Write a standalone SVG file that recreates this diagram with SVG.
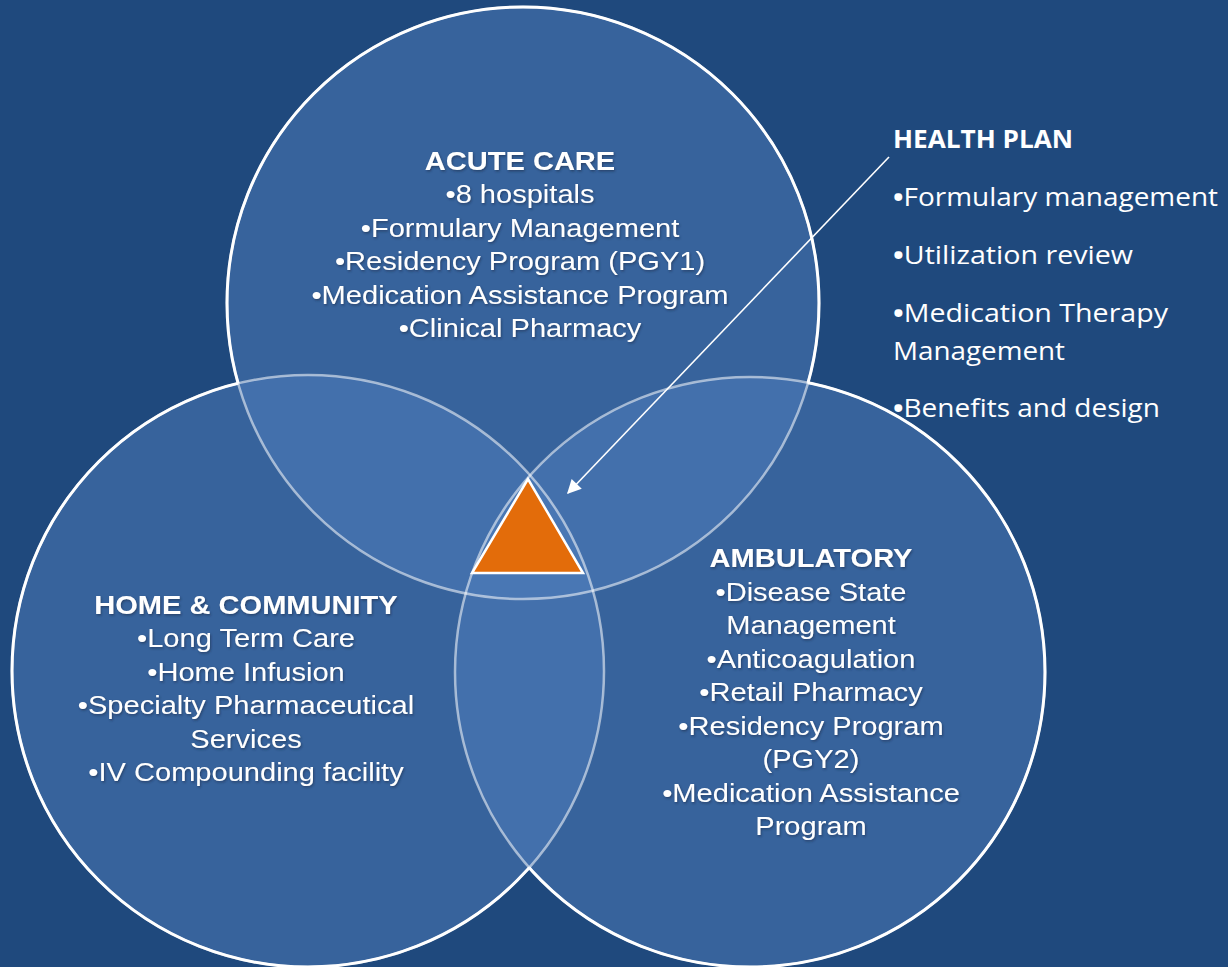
<svg xmlns="http://www.w3.org/2000/svg" width="1228" height="967" viewBox="0 0 1228 967">
<style>
.fill{fill:#4f7ebc;fill-opacity:0.5;stroke:none}
.faint{fill:none;stroke:#ffffff;stroke-opacity:0.55;stroke-width:2.5}
.edge{fill:none;stroke:#ffffff;stroke-width:3}
.ar{font-family:"Liberation Sans",Arial,sans-serif;font-size:25.5px;fill:#ffffff;text-anchor:middle}
.ar .t{font-weight:bold}
.hp{font-family:"Open Sans","Noto Sans",sans-serif;font-size:25.5px;fill:#ffffff}
.b{font-weight:bold}
</style>
<defs>
<filter id="sh" x="-10%" y="-10%" width="120%" height="120%">
<feDropShadow dx="1" dy="1.5" stdDeviation="1" flood-color="#1a2e4c" flood-opacity="0.6"/>
</filter>
<mask id="mTop" maskUnits="userSpaceOnUse" x="0" y="0" width="1228" height="967">
<rect width="1228" height="967" fill="#fff"/>
<circle cx="308" cy="671" r="296" fill="#000"/>
<circle cx="750" cy="672" r="295" fill="#000"/>
</mask>
<mask id="mLeft" maskUnits="userSpaceOnUse" x="0" y="0" width="1228" height="967">
<rect width="1228" height="967" fill="#fff"/>
<circle cx="523" cy="303" r="296" fill="#000"/>
<circle cx="750" cy="672" r="295" fill="#000"/>
</mask>
<mask id="mRight" maskUnits="userSpaceOnUse" x="0" y="0" width="1228" height="967">
<rect width="1228" height="967" fill="#fff"/>
<circle cx="523" cy="303" r="296" fill="#000"/>
<circle cx="308" cy="671" r="296" fill="#000"/>
</mask>
<marker id="ah" viewBox="0 0 10 10" refX="9" refY="5" markerWidth="17" markerHeight="14" markerUnits="userSpaceOnUse" orient="auto">
<path d="M0,0 L10,5 L0,10 Z" fill="#ffffff"/>
</marker>
</defs>
<rect width="1228" height="967" fill="#1f497d"/>

<g id="circle-fills">
<circle class="fill" cx="523" cy="303" r="296"/>
<circle class="fill" cx="308" cy="671" r="296"/>
<circle class="fill" cx="750" cy="672" r="295"/>
</g>
<g id="circle-outlines">
<circle class="faint" cx="523" cy="303" r="296"/>
<circle class="faint" cx="308" cy="671" r="296"/>
<circle class="faint" cx="750" cy="672" r="295"/>
<circle class="edge" cx="523" cy="303" r="296" mask="url(#mTop)"/>
<circle class="edge" cx="308" cy="671" r="296" mask="url(#mLeft)"/>
<circle class="edge" cx="750" cy="672" r="295" mask="url(#mRight)"/>
</g>

<g id="triangle">
<polygon points="528,479 472,573 583,573" fill="#e36c0a" stroke="#ffffff" stroke-width="2.5" stroke-linejoin="miter"/>
</g>

<g id="acute-care" filter="url(#sh)">
<g transform="translate(520 0) scale(1.14 1)" class="ar">
<text class="t" x="0" y="170">ACUTE CARE</text>
<text x="0" y="203.5">•8 hospitals</text>
<text x="0" y="237">•Formulary Management</text>
<text x="0" y="270.5">•Residency Program (PGY1)</text>
<text x="0" y="304">•Medication Assistance Program</text>
<text x="0" y="337.5">•Clinical Pharmacy</text>
</g>
</g>

<g id="home-community" filter="url(#sh)">
<g transform="translate(246 0) scale(1.14 1)" class="ar">
<text class="t" x="0" y="614">HOME &amp; COMMUNITY</text>
<text x="0" y="647.5">•Long Term Care</text>
<text x="0" y="681">•Home Infusion</text>
<text x="0" y="714.5">•Specialty Pharmaceutical</text>
<text x="0" y="748">Services</text>
<text x="0" y="781.5">•IV Compounding facility</text>
</g>
</g>

<g id="ambulatory" filter="url(#sh)">
<g transform="translate(811 0) scale(1.14 1)" class="ar">
<text class="t" x="0" y="567.5">AMBULATORY</text>
<text x="0" y="601">•Disease State</text>
<text x="0" y="634.5">Management</text>
<text x="0" y="668">•Anticoagulation</text>
<text x="0" y="701.5">•Retail Pharmacy</text>
<text x="0" y="735">•Residency Program</text>
<text x="0" y="768.5">(PGY2)</text>
<text x="0" y="802">•Medication Assistance</text>
<text x="0" y="835.5">Program</text>
</g>
</g>

<g id="health-plan" class="hp">
<text x="893" y="148" font-weight="bold" textLength="180" lengthAdjust="spacingAndGlyphs">HEALTH PLAN</text>
<text x="893" y="206" textLength="325" lengthAdjust="spacingAndGlyphs"><tspan class="b">•</tspan>Formulary management</text>
<text x="893" y="264" textLength="240" lengthAdjust="spacingAndGlyphs"><tspan class="b">•</tspan>Utilization review</text>
<text x="893" y="322" textLength="275" lengthAdjust="spacingAndGlyphs"><tspan class="b">•</tspan>Medication Therapy</text>
<text x="893" y="360" textLength="172" lengthAdjust="spacingAndGlyphs">Management</text>
<text x="893" y="417" textLength="267" lengthAdjust="spacingAndGlyphs"><tspan class="b">•</tspan>Benefits and design</text>
</g>

<g id="connectors">
<line x1="889" y1="157" x2="568" y2="493" stroke="#ffffff" stroke-width="1.6" marker-end="url(#ah)"/>
</g>
</svg>
